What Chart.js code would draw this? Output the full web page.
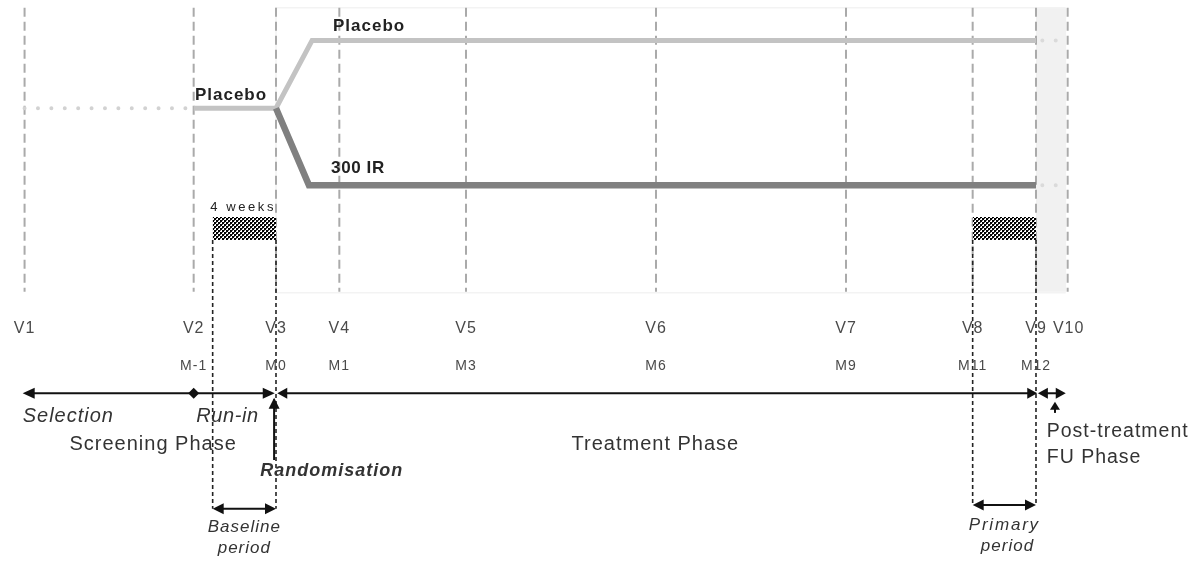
<!DOCTYPE html>
<html>
<head>
<meta charset="utf-8">
<script src="https://cdn.jsdelivr.net/npm/chart.js@4.4.1/dist/chart.umd.min.js"></script>
<style>
  html, body { margin: 0; padding: 0; background: #ffffff; }
  #wrap { width: 1194px; height: 561px; position: relative; }
</style>
</head>
<body>
<div id="wrap"><canvas id="c"></canvas></div>
<script>
// ---- Visits (x in months relative to randomisation) ----
const visits      = ['V1', 'V2', 'V3', 'V4', 'V5', 'V6', 'V7', 'V8', 'V9', 'V10'];
const visitMonth  = [-3.97, -1.3, 0, 1, 3, 6, 9, 11, 12, 12.5];
const monthLabels = ['', 'M-1', 'M0', 'M1', 'M3', 'M6', 'M9', 'M11', 'M12', ''];

// ---- Treatment arms (y = arbitrary schematic level, 0-100) ----
const runInDotsX   = [-3.97, -1.4];
const runInLevel   = 80.7;
const placeboX     = [-1.3, 0, 0.57, 12];
const placeboY     = [80.7, 80.7, 92.8, 92.8];
const activeX      = [0, 0.52, 12];
const activeY      = [80.7, 67.0, 67.0];
const followDotsX  = [12.1, 12.34];

// ---- Assessment windows (checkered bars) ----
const baselineWindow = [-1, 0];
const primaryWindow  = [11, 12];

// ---- Phase timeline ----
const selectionSeg = [-4.0, -1.3];
const runInSeg     = [-1.3, -0.02];
const treatmentSeg = [0.02, 12.02];
const followSeg    = [12.03, 12.47];

// ---- Layout levels (schematic y units) ----
const panelTop = 98.6, panelBottom = 48, windowTop = 61.3, windowBottom = 57.2;
const timelineY = 29.9, baselineArrowY = 9.3, primaryArrowY = 10.0;

const ctxEl = document.getElementById('c');

// checker pattern
function makePattern() {
  const p = document.createElement('canvas');
  p.width = 4; p.height = 4;
  const g = p.getContext('2d');
  g.fillStyle = '#ffffff'; g.fillRect(0, 0, 4, 4);
  g.fillStyle = '#000000';
  g.fillRect(0, 0, 2, 2); g.fillRect(2, 2, 2, 2);
  g.fillStyle = '#555555';
  g.fillRect(2, 0, 1, 1); g.fillRect(0, 2, 1, 1);
  return ctxEl.getContext('2d').createPattern(p, 'repeat');
}
const checker = makePattern();

function pts(xs, ys) { return xs.map((x, i) => ({ x: x, y: Array.isArray(ys) ? ys[i] : ys })); }

// vertical grey dashed visit lines
const visitLines = [];
visitMonth.forEach(m => {
  visitLines.push({ x: m, y: panelTop }, { x: m, y: panelBottom }, { x: m, y: null });
});
// black dashed window lines
const windowLines = [];
[baselineWindow[0], baselineWindow[1]].forEach(m => {
  windowLines.push({ x: m, y: windowBottom }, { x: m, y: baselineArrowY }, { x: m, y: null });
});
[primaryWindow[0], primaryWindow[1]].forEach(m => {
  windowLines.push({ x: m, y: windowBottom }, { x: m, y: primaryArrowY }, { x: m, y: null });
});

const base = { pointRadius: 0, tension: 0, fill: false };

const datasets = [
  Object.assign({}, base, { // follow-up shaded band
    data: pts([visitMonth[8], visitMonth[9] - 0.02], panelTop),
    borderWidth: 0, backgroundColor: '#f1f1f1', fill: { value: panelBottom }, order: 20 }),
  Object.assign({}, base, { // faint panel outline
    data: [{ x: 0, y: panelBottom - 0.2 }, { x: 0, y: panelTop }, { x: 12.47, y: panelTop }, { x: 0, y: null },
           { x: 0, y: panelBottom - 0.2 }, { x: 12.47, y: panelBottom - 0.2 }],
    borderColor: '#f3f3f3', borderWidth: 1.5, order: 19 }),
  Object.assign({}, base, {
    data: visitLines, borderColor: '#aaaaaa', borderWidth: 2, borderDash: [9, 5], order: 18 }),
  Object.assign({}, base, {
    data: pts(baselineWindow, windowTop), borderWidth: 0, backgroundColor: checker,
    fill: { value: windowBottom }, order: 17 }),
  Object.assign({}, base, {
    data: pts(primaryWindow, windowTop), borderWidth: 0, backgroundColor: checker,
    fill: { value: windowBottom }, order: 17 }),
  Object.assign({}, base, {
    data: windowLines, borderColor: '#222222', borderWidth: 1.6, borderDash: [4, 3], order: 16 }),
  Object.assign({}, base, { // run-in dotted
    data: pts(runInDotsX, runInLevel), borderColor: '#d2d2d2', borderWidth: 4,
    borderDash: [0, 13.4], borderCapStyle: 'round', order: 15 }),
  Object.assign({}, base, { // follow-up dotted placebo
    data: pts(followDotsX, placeboY[3]), borderColor: '#dadada', borderWidth: 4,
    borderDash: [0, 13.4], borderCapStyle: 'round', order: 15 }),
  Object.assign({}, base, { // follow-up dotted active
    data: pts(followDotsX, activeY[2]), borderColor: '#dadada', borderWidth: 4,
    borderDash: [0, 13.4], borderCapStyle: 'round', order: 15 }),
  Object.assign({}, base, {
    label: 'Placebo', data: pts(placeboX, placeboY), borderColor: '#c3c3c3', borderWidth: 5,
    borderJoinStyle: 'miter', order: 14 }),
  Object.assign({}, base, {
    label: '300 IR', data: pts(activeX, activeY), borderColor: '#808080', borderWidth: 6.5,
    borderJoinStyle: 'miter', order: 13 })
];

// annotation texts: [text, xMonth, yLevel, font, align, color, letterSpacing]
const F = '"Liberation Sans", Arial, sans-serif';
const texts = [
  ['Placebo', -1.28, 82.2, 'bold 17px ' + F, 'left', '#222', '1px'],
  ['Placebo', 0.9, 94.5, 'bold 17px ' + F, 'left', '#222', '1px'],
  ['300 IR', 0.87, 69.2, 'bold 17px ' + F, 'left', '#222', '0.6px'],
  ['4 weeks', -1.04, 62.4, '13px ' + F, 'left', '#222', '2.6px'],
  ['Selection', -4.0, 24.8, 'italic 20px ' + F, 'left', '#333', '1px'],
  ['Run-in', -1.26, 24.8, 'italic 20px ' + F, 'left', '#333', '0.6px'],
  ['Screening Phase', -1.94, 19.8, '20px ' + F, 'center', '#333', '1px'],
  ['Treatment Phase', 5.99, 19.8, '20px ' + F, 'center', '#333', '1px'],
  ['Randomisation', -0.25, 15.2, 'bold italic 18px ' + F, 'left', '#333', '1px'],
  ['Post-treatment', 12.17, 22.1, '19.5px ' + F, 'left', '#333', '1px'],
  ['FU Phase', 12.17, 17.5, '19.5px ' + F, 'left', '#333', '1px'],
  ['Baseline', -0.5, 5.2, 'italic 17px ' + F, 'center', '#333', '1px'],
  ['period', -0.5, 1.5, 'italic 17px ' + F, 'center', '#333', '1px'],
  ['Primary', 11.5, 5.5, 'italic 17px ' + F, 'center', '#333', '1.8px'],
  ['period', 11.55, 1.8, 'italic 17px ' + F, 'center', '#333', '1px']
];
const visitLabelY = 40.6, monthLabelY = 34.0;

const annot = {
  id: 'annot',
  afterDatasetsDraw(chart) {
    const { ctx, scales: { x, y } } = chart;
    const X = v => x.getPixelForValue(v), Y = v => y.getPixelForValue(v);
    ctx.save();
    ctx.letterSpacing = '1px';
    ctx.textBaseline = 'alphabetic';
    // visit + month labels
    ctx.fillStyle = '#4a4a4a';
    ctx.textAlign = 'center';
    ctx.font = '16px ' + F;
    visits.forEach((v, i) => {
      let px = X(visitMonth[i]);
      if (v === 'V10') px += 1;
      ctx.fillText(v, px, Y(visitLabelY));
    });
    ctx.font = '14px ' + F;
    monthLabels.forEach((m, i) => { if (m) ctx.fillText(m, X(visitMonth[i]), Y(monthLabelY)); });
    // texts
    texts.forEach(t => {
      ctx.font = t[3]; ctx.textAlign = t[4]; ctx.fillStyle = t[5]; ctx.letterSpacing = t[6];
      ctx.fillText(t[0], X(t[1]), Y(t[2]));
    });
    // arrows
    ctx.letterSpacing = '0px';
    ctx.strokeStyle = '#111'; ctx.fillStyle = '#111'; ctx.lineWidth = 2;
    const head = (tx, ty, dx, dy, L, W) => {
      const len = Math.hypot(dx, dy), ux = dx / len, uy = dy / len;
      ctx.beginPath();
      ctx.moveTo(tx, ty);
      ctx.lineTo(tx - ux * L - uy * W, ty - uy * L + ux * W);
      ctx.lineTo(tx - ux * L + uy * W, ty - uy * L - ux * W);
      ctx.closePath(); ctx.fill();
    };
    const hArrow = (m1, m2, lvl, startHead, endHead, L, W) => {
      const x1 = X(m1), x2 = X(m2), yy = Y(lvl);
      ctx.beginPath();
      ctx.moveTo(x1 + (startHead ? L - 1 : 0), yy);
      ctx.lineTo(x2 - (endHead ? L - 1 : 0), yy);
      ctx.stroke();
      if (startHead) head(x1, yy, -1, 0, L, W);
      if (endHead) head(x2, yy, 1, 0, L, W);
    };
    hArrow(selectionSeg[0], selectionSeg[1], timelineY, true, false, 12, 5.5);
    hArrow(runInSeg[0], runInSeg[1], timelineY, false, true, 12, 5.5);
    hArrow(treatmentSeg[0], treatmentSeg[1], timelineY, true, true, 10, 5.5);
    hArrow(followSeg[0], followSeg[1], timelineY, true, true, 10, 5.5);
    // diamond at V2
    const dx = X(visitMonth[1]), dy = Y(timelineY);
    ctx.beginPath();
    ctx.moveTo(dx, dy - 5.5); ctx.lineTo(dx + 5.5, dy); ctx.lineTo(dx, dy + 5.5); ctx.lineTo(dx - 5.5, dy);
    ctx.closePath(); ctx.fill();
    // randomisation up arrow
    const rx = X(-0.03);
    ctx.beginPath(); ctx.moveTo(rx, Y(18.0)); ctx.lineTo(rx, Y(28.8)); ctx.stroke();
    head(rx, Y(29.1), 0, -1, 11, 5.5);
    // follow-up up arrow
    const fx = X(12.3);
    ctx.beginPath(); ctx.moveTo(fx, Y(26.4)); ctx.lineTo(fx, Y(27.5)); ctx.stroke();
    head(fx, Y(28.4), 0, -1, 8, 5);
    // window double arrows
    hArrow(baselineWindow[0], baselineWindow[1], baselineArrowY, true, true, 11, 5.5);
    hArrow(primaryWindow[0], primaryWindow[1], primaryArrowY, true, true, 11, 5.5);
    ctx.restore();
  }
};

new Chart(ctxEl, {
  type: 'line',
  data: { datasets: datasets },
  options: {
    responsive: true,
    maintainAspectRatio: false,
    animation: false,
    events: [],
    layout: { padding: 0 },
    plugins: { legend: { display: false }, tooltip: { enabled: false } },
    scales: {
      x: { type: 'linear', min: -276 / 63.333, max: (1194 - 276) / 63.333, display: false },
      y: { type: 'linear', min: 0, max: 100, display: false }
    }
  },
  plugins: [annot]
});
</script>
</body>
</html>
